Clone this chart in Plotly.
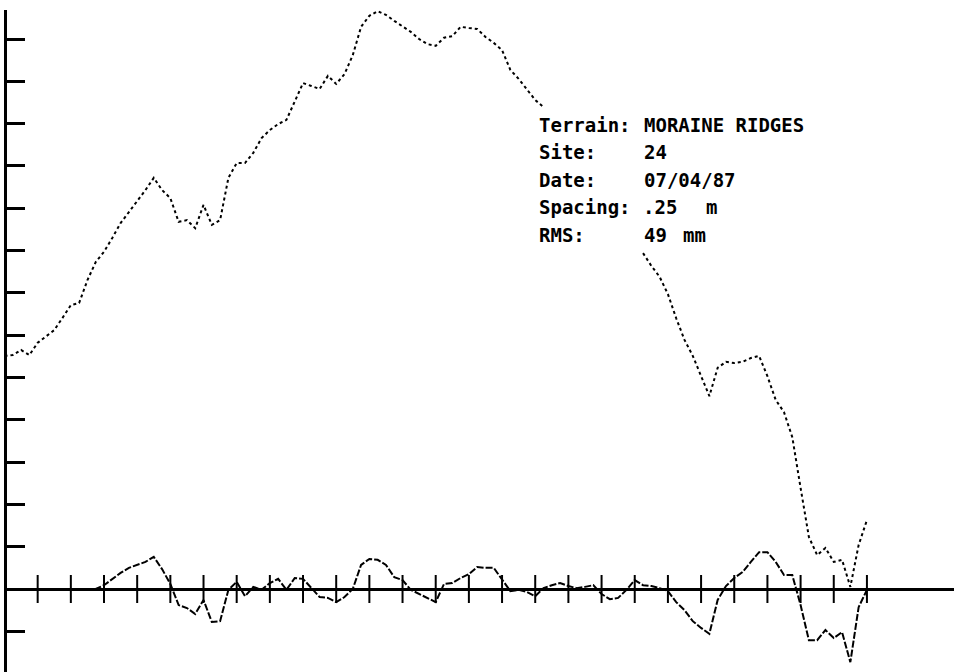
import plotly.graph_objects as go

# ---- data ----
spacing_m = 0.25
distance_m = [round(i * spacing_m, 2) for i in range(105)]

# surface profile, mm (None = hidden behind the legend text)
profile_mm = [551, 553, 565, 553, 582, 596, 612, 641, 671, 676,
              730, 773, 797, 830, 865, 891, 917, 943, 972, 943,
              924, 868, 872, 853, 908, 861, 872, 972, 1007, 1007,
              1031, 1066, 1085, 1099, 1109, 1151, 1196, 1189, 1182, 1213,
              1194, 1217, 1262, 1329, 1355, 1366, 1357, 1343, 1331, 1317,
              1300, 1288, 1284, 1303, 1307, 1329, 1326, 1324, 1305, 1291,
              1274, 1227, 1206, 1180, 1156, 1139, None, None, None, None,
              None, None, None, None, None, None, None, 794, 764, 738,
              697, 640, 589, 551, 504, 456, 523, 537, 534, 537,
              546, 551, 503, 447, 418, 359, 239, 123, 80, 97,
              64, 69, 5, 104, 163]

# detrended residual, mm
residual_mm = [0, 0, 0, 0, 0, 0, 0, 0, 0, 0,
               0, 0, 9, 24, 38, 50, 57, 64, 76, 47,
               12, -38, -45, -59, -26, -78, -76, -2, 17, -17,
               5, -2, 14, 24, -2, 26, 24, 2, -19, -21,
               -31, -19, 0, 57, 71, 69, 57, 28, 21, -2,
               -12, -21, -31, 12, 14, 26, 35, 52, 50, 50,
               21, -5, -2, -7, -17, 2, 9, 14, 7, 2,
               5, 9, -12, -24, -21, -2, 21, 9, 7, 2,
               -5, -31, -50, -76, -92, -106, -26, 7, 26, 40,
               64, 87, 87, 64, 33, 33, -38, -121, -121, -97,
               -116, -102, -173, -43, -2]

x_tick_m = list(range(1, 27))
y_tick_mm = list(range(-100, 1400, 100))

info_labels = ["Terrain:", "Site:", "Date:", "Spacing:", "RMS:"]
info_values = ["MORAINE RIDGES", "24", "07/04/87", ".25", "49"]
info_units = [None, None, None, "m", "mm"]

W, H = 954, 672

fig = go.Figure()
fig.add_trace(go.Scatter(x=distance_m, y=profile_mm, mode="lines",
                         line=dict(color="black", width=2, dash="3px,3px"),
                         connectgaps=False, hoverinfo="skip"))
fig.add_trace(go.Scatter(x=distance_m, y=residual_mm, mode="lines",
                         line=dict(color="black", width=2, dash="7px,2px"),
                         hoverinfo="skip"))
fig.add_trace(go.Scatter(x=x_tick_m, y=[0] * len(x_tick_m), mode="markers",
                         marker=dict(symbol="line-ns", size=20,
                                     line=dict(color="black", width=2)),
                         hoverinfo="skip"))

font = dict(family="DejaVu Sans Mono", size=19, color="black", weight="bold")
line_centers_px = [125, 152, 180, 207, 235]
value_x_px = [643, 643, 643, 642, 643]
unit_x_px = [None, None, None, 705, 682]


def add_text(txt, px, py):
    fig.add_annotation(xref="paper", yref="paper", x=px / W, y=1 - py / H,
                       xanchor="left", yanchor="middle", showarrow=False,
                       text=txt, font=font, borderpad=0)


for i, cy in enumerate(line_centers_px):
    add_text(info_labels[i], 538, cy)
    add_text(info_values[i], value_x_px[i], cy)
    if info_units[i]:
        add_text(info_units[i], unit_x_px[i], cy)

fig.update_layout(
    width=W, height=H, autosize=False,
    margin=dict(l=0, r=0, t=0, b=0, pad=0),
    paper_bgcolor="white", plot_bgcolor="white",
    showlegend=False,
    xaxis=dict(domain=[7 / W, 1], range=[0.0754, 28.625], visible=False,
               fixedrange=True),
    yaxis=dict(domain=[0, (H - 10) / H], range=[-196.2, 1368.7],
               showline=True, linecolor="black", linewidth=3,
               ticks="inside", ticklen=18, tickwidth=3, tickcolor="black",
               tickvals=y_tick_mm, showticklabels=False, showgrid=False,
               zeroline=True, zerolinecolor="black", zerolinewidth=3,
               fixedrange=True),
)

fig.write_html("out.html", config={"displayModeBar": False},
               post_script="document.body.style.margin='0px';"
                           "document.body.style.padding='0px';")
